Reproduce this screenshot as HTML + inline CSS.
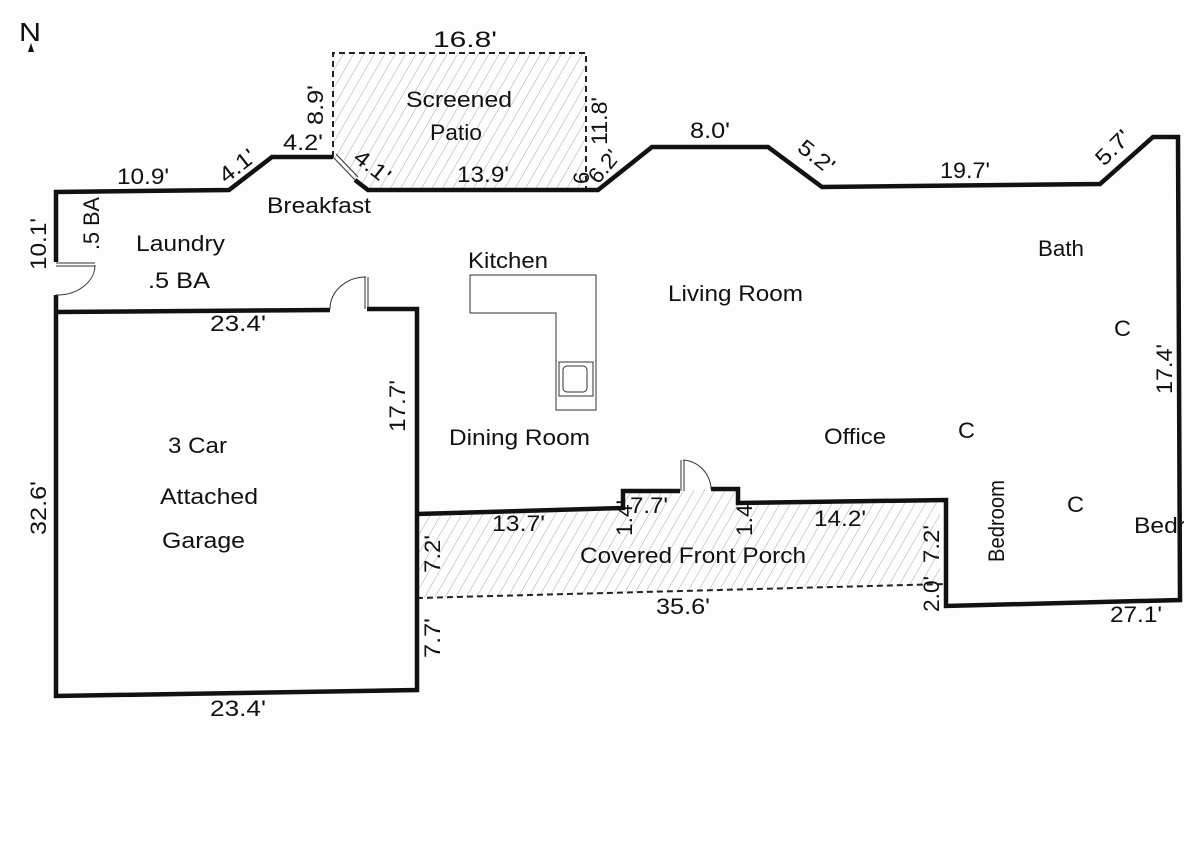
<!DOCTYPE html>
<html><head><meta charset="utf-8"><style>
body{margin:0;background:#fdfdfd}
svg{display:block}
text{font-family:"Liberation Sans",sans-serif;fill:#111}
</style></head><body>
<svg width="1184" height="864" viewBox="0 0 1184 864">
<defs>
<pattern id="h" width="9" height="30" patternUnits="userSpaceOnUse" patternTransform="rotate(30)">
<line x1="0" y1="0" x2="0" y2="30" stroke="#aaa" stroke-width="1"/>
</pattern>
</defs>
<rect width="1184" height="864" fill="#fdfdfd"/>
<polygon points="333,53 586,53 586,190 368,190 355,180 333,157" fill="url(#h)"/>
<polygon points="417,514 623,508 623,491 680,491 711,489 738,489 738,504 940,502 940,584 417,598" fill="url(#h)"/>
<g stroke="#222" stroke-width="2" stroke-dasharray="6,4" fill="none">
<polyline points="333,157 333,53 586,53 586,190"/>
<line x1="417" y1="598" x2="946" y2="584"/>
</g>
<g stroke="#111" stroke-width="4.5" fill="none" stroke-linejoin="miter">
<polyline points="56,262 56,192 229,190 272,157 333,157"/>
<polyline points="355,180 368,190 598,190 652,147 768,147 822,187 1100,184 1153,137 1178,137 1180,600 946,606 946,500 738,503 738,489 711,489"/>
<polyline points="680,491 623,491 623,508 417,514"/>
<polyline points="56,295 56,696 417,690 417,309 367,309"/>
<line x1="56" y1="312" x2="330" y2="310"/>
</g>
<g stroke="#333" stroke-width="1" fill="none">
<line x1="333" y1="157" x2="355" y2="180"/>
<line x1="336" y1="154" x2="358" y2="177"/>
<line x1="56" y1="263" x2="95" y2="263"/><line x1="56" y1="266" x2="95" y2="266"/>
<path d="M95,265 A38,30 0 0 1 56,295"/>
<line x1="365" y1="277" x2="365" y2="309"/><line x1="368" y1="277" x2="368" y2="309"/>
<path d="M366,277 A36,32 0 0 0 330,309"/>
<line x1="681" y1="460" x2="681" y2="491"/><line x1="684" y1="460" x2="684" y2="491"/>
<path d="M683,460 A30,30 0 0 1 711,489"/>
<polygon points="470,275 596,275 596,410 556,410 556,313 470,313"/>
<rect x="559" y="362" width="34" height="34"/>
<rect x="563" y="366" width="24" height="26" rx="4"/>
</g>
<text x="19" y="41" font-size="26" textLength="22" lengthAdjust="spacingAndGlyphs">N</text>
<polygon points="31,43 28,52 34,52" fill="#111"/>
<g font-size="22">
<text x="406" y="107" textLength="106" lengthAdjust="spacingAndGlyphs">Screened</text>
<text x="430" y="140" textLength="52" lengthAdjust="spacingAndGlyphs">Patio</text>
<text x="267" y="213" textLength="104" lengthAdjust="spacingAndGlyphs">Breakfast</text>
<text x="136" y="251" textLength="89" lengthAdjust="spacingAndGlyphs">Laundry</text>
<text x="148" y="288" textLength="62" lengthAdjust="spacingAndGlyphs">.5 BA</text>
<text x="468" y="268" textLength="80" lengthAdjust="spacingAndGlyphs">Kitchen</text>
<text x="668" y="301" textLength="135" lengthAdjust="spacingAndGlyphs">Living Room</text>
<text x="1038" y="256" textLength="46" lengthAdjust="spacingAndGlyphs">Bath</text>
<text x="1114" y="336" textLength="17" lengthAdjust="spacingAndGlyphs">C</text>
<text x="958" y="438" textLength="17" lengthAdjust="spacingAndGlyphs">C</text>
<text x="1067" y="512" textLength="17" lengthAdjust="spacingAndGlyphs">C</text>
<text x="1134" y="533" textLength="52" lengthAdjust="spacingAndGlyphs">Bedr</text>
<text x="449" y="445" textLength="141" lengthAdjust="spacingAndGlyphs">Dining Room</text>
<text x="824" y="444" textLength="62" lengthAdjust="spacingAndGlyphs">Office</text>
<text x="168" y="453" textLength="59" lengthAdjust="spacingAndGlyphs">3 Car</text>
<text x="160" y="504" textLength="98" lengthAdjust="spacingAndGlyphs">Attached</text>
<text x="162" y="548" textLength="83" lengthAdjust="spacingAndGlyphs">Garage</text>
<text x="580" y="563" textLength="226" lengthAdjust="spacingAndGlyphs">Covered Front Porch</text>
<text transform="translate(1004,562) rotate(-90)" textLength="82" lengthAdjust="spacingAndGlyphs">Bedroom</text>
<text transform="translate(99,250) rotate(-90)" textLength="53" lengthAdjust="spacingAndGlyphs">.5 BA</text>
</g>
<g font-size="22">
<text x="433" y="47" textLength="64" lengthAdjust="spacingAndGlyphs">16.8'</text>
<text x="117" y="184" textLength="52" lengthAdjust="spacingAndGlyphs">10.9'</text>
<text x="283" y="150" textLength="40" lengthAdjust="spacingAndGlyphs">4.2'</text>
<text x="457" y="182" textLength="52" lengthAdjust="spacingAndGlyphs">13.9'</text>
<text x="690" y="138" textLength="40" lengthAdjust="spacingAndGlyphs">8.0'</text>
<text x="940" y="178" textLength="50" lengthAdjust="spacingAndGlyphs">19.7'</text>
<text x="210" y="331" textLength="56" lengthAdjust="spacingAndGlyphs">23.4'</text>
<text x="210" y="716" textLength="56" lengthAdjust="spacingAndGlyphs">23.4'</text>
<text x="492" y="531" textLength="53" lengthAdjust="spacingAndGlyphs">13.7'</text>
<text x="630" y="513" textLength="38" lengthAdjust="spacingAndGlyphs">7.7'</text>
<text x="814" y="526" textLength="52" lengthAdjust="spacingAndGlyphs">14.2'</text>
<text x="656" y="614" textLength="54" lengthAdjust="spacingAndGlyphs">35.6'</text>
<text x="1110" y="622" textLength="52" lengthAdjust="spacingAndGlyphs">27.1'</text>
<text transform="translate(226,184) rotate(-38)" textLength="40" lengthAdjust="spacingAndGlyphs">4.1'</text>
<text transform="translate(352,160) rotate(38)" textLength="40" lengthAdjust="spacingAndGlyphs">4.1'</text>
<text transform="translate(796,150) rotate(38)" textLength="40" lengthAdjust="spacingAndGlyphs">5.2'</text>
<text transform="translate(1104,167) rotate(-45)" textLength="40" lengthAdjust="spacingAndGlyphs">5.7'</text>
<text transform="translate(598,185) rotate(-50)" textLength="36" lengthAdjust="spacingAndGlyphs">6.2'</text>
<text transform="translate(589,184) rotate(-90)">6</text>
<text transform="translate(323,125) rotate(-90)" textLength="40" lengthAdjust="spacingAndGlyphs">8.9'</text>
<text transform="translate(607,145) rotate(-90)" textLength="48" lengthAdjust="spacingAndGlyphs">11.8'</text>
<text transform="translate(46,270) rotate(-90)" textLength="52" lengthAdjust="spacingAndGlyphs">10.1'</text>
<text transform="translate(46,535) rotate(-90)" textLength="54" lengthAdjust="spacingAndGlyphs">32.6'</text>
<text transform="translate(405,432) rotate(-90)" textLength="52" lengthAdjust="spacingAndGlyphs">17.7'</text>
<text transform="translate(440,573) rotate(-90)" textLength="38" lengthAdjust="spacingAndGlyphs">7.2'</text>
<text transform="translate(440,658) rotate(-90)" textLength="40" lengthAdjust="spacingAndGlyphs">7.7'</text>
<text transform="translate(632,536) rotate(-90)" textLength="36" lengthAdjust="spacingAndGlyphs">1.4'</text>
<text transform="translate(752,536) rotate(-90)" textLength="36" lengthAdjust="spacingAndGlyphs">1.4'</text>
<text transform="translate(939,563) rotate(-90)" textLength="38" lengthAdjust="spacingAndGlyphs">7.2'</text>
<text transform="translate(939,612) rotate(-90)" textLength="36" lengthAdjust="spacingAndGlyphs">2.0'</text>
<text transform="translate(1172,394) rotate(-90)" textLength="50" lengthAdjust="spacingAndGlyphs">17.4'</text>
</g>
</svg>
</body></html>
